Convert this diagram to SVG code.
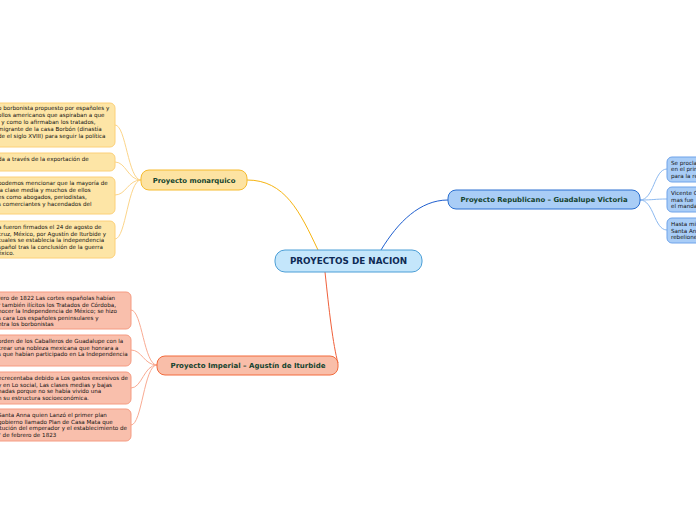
<svg xmlns="http://www.w3.org/2000/svg" width="696" height="520" viewBox="0 0 696 520">
<style>
.t{font-family:"DejaVu Sans","Liberation Sans",sans-serif;font-size:5.6px;fill:#111111}
.h{font-family:"DejaVu Sans","Liberation Sans",sans-serif;font-weight:bold;fill:#14432e;text-anchor:middle;dominant-baseline:central}
.mo{fill:#fde5a6;stroke:#fcd079;stroke-width:1}
.im{fill:#f9bfac;stroke:#f59b82;stroke-width:1}
.re{fill:#a9cdf7;stroke:#6ea3ea;stroke-width:1}
.c{fill:none;stroke-width:1}
</style>
<rect width="696" height="520" fill="#ffffff"/>
<g id="connectors">
<path class="c" d="M318,250 C300,212 285,180 247,180" stroke="#f6b412" stroke-width="1.6"/>
<path class="c" d="M381,250 C398,222 420,200 448,200" stroke="#1f5fcf" stroke-width="1.6"/>
<path class="c" d="M325,272 C329,310 333,345 338,363" stroke="#f0603a" stroke-width="1.6"/>
<g stroke="#fcd58a">
<path class="c" d="M141,180 C128,180 126,125 115,125"/>
<path class="c" d="M141,180 C128,180 126,162 115,162"/>
<path class="c" d="M141,180 C128,180 126,195 115,195"/>
<path class="c" d="M141,180 C128,180 126,239 115,239"/>
</g>
<g stroke="#f9ab93">
<path class="c" d="M157,365 C144,365 142,310 131,310"/>
<path class="c" d="M157,365 C144,365 142,350 131,350"/>
<path class="c" d="M157,365 C144,365 142,388 131,388"/>
<path class="c" d="M157,365 C144,365 142,425 131,425"/>
</g>
<g stroke="#8cb9f0">
<path class="c" d="M640,200 C654,200 654,169 667,169"/>
<path class="c" d="M640,200 C654,200 654,199 667,199"/>
<path class="c" d="M640,200 C654,200 654,230 667,230"/>
</g>
</g>
<g id="center">
<rect x="275" y="250" width="147" height="22" rx="10" fill="#c4e6fb" stroke="#4b9ed6" stroke-width="1"/>
<text class="h" x="348.5" y="261" font-size="8.8" style="fill:#0e2a55">PROYECTOS DE NACION</text>
</g>
<g id="monarquico">
<rect x="141" y="170" width="106" height="20" rx="8" fill="#fde3a2" stroke="#f6bb2f" stroke-width="1"/>
<text class="h" x="194" y="180.5" font-size="6.9">Proyecto monarquico</text>
</g>
<g id="republicano">
<rect x="448" y="190" width="192" height="19" rx="8" fill="#a9cdf6" stroke="#2a6fd0" stroke-width="1"/>
<text class="h" x="544" y="200" font-size="6.9">Proyecto Republicano – Guadalupe Victoria</text>
</g>
<g id="imperial">
<rect x="157" y="356" width="181" height="19" rx="8" fill="#f9bea9" stroke="#f26a3c" stroke-width="1"/>
<text class="h" x="248" y="366" font-size="7">Proyecto Imperial – Agustín de Iturbide</text>
</g>
<g id="mon1">
<rect class="mo" x="-10" y="103" width="125" height="44" rx="5"/>
<text class="t" x="-2" y="110">o borbonista propuesto por españoles y</text>
<text class="t" x="-2" y="117">ollos americanos que aspiraban a que</text>
<text class="t" x="-2" y="124">l y como lo afirmaban los tratados,</text>
<text class="t" x="-2" y="131">migrante de la casa Borbón (dinastía</text>
<text class="t" x="-2" y="138">de el siglo XVIII) para seguir la política</text>
</g>
<g id="mon2">
<rect class="mo" x="-10" y="153" width="125" height="18" rx="5"/>
<text class="t" x="-2" y="161">da a través de la exportación de</text>
</g>
<g id="mon3">
<rect class="mo" x="-10" y="177" width="125" height="37" rx="5"/>
<text class="t" x="-2" y="185">podemos mencionar que la mayoría de</text>
<text class="t" x="-2" y="192">la clase media y muchos de ellos</text>
<text class="t" x="-2" y="199">es como abogados, periodistas,</text>
<text class="t" x="-2" y="206">s comerciantes y hacendados del</text>
</g>
<g id="mon4">
<rect class="mo" x="-10" y="221" width="125" height="37" rx="5"/>
<text class="t" x="-2" y="229">a fueron firmados el 24 de agosto de</text>
<text class="t" x="-2" y="235.5">cruz, México, por Agustín de Iturbide y</text>
<text class="t" x="-2" y="242">cuales se establecía la independencia</text>
<text class="t" x="-2" y="248.5">spañol tras la conclusión de la guerra</text>
<text class="t" x="-2" y="255">éxico.</text>
</g>
<g id="imp1">
<rect class="im" x="-10" y="292" width="141" height="37" rx="5"/>
<text class="t" x="-2" y="300">rero de 1822 Las cortes españolas habían</text>
<text class="t" x="-2" y="306.5">r también ilícitos los Tratados de Córdoba,</text>
<text class="t" x="-2" y="313">nocer la Independencia de México; se hizo</text>
<text class="t" x="-2" y="319.5">s cara Los españoles peninsulares y</text>
<text class="t" x="-2" y="326">ntra los borbonistas</text>
</g>
<g id="imp2">
<rect class="im" x="-10" y="335" width="141" height="31" rx="5"/>
<text class="t" x="-2" y="343">orden de los Caballeros de Guadalupe con la</text>
<text class="t" x="-2" y="349.5"> crear una nobleza mexicana que honrara a</text>
<text class="t" x="-2" y="356">s que habían participado en La Independencia</text>
</g>
<g id="imp3">
<rect class="im" x="-10" y="372" width="141" height="32" rx="5"/>
<text class="t" x="-2" y="380">ecrecentaba debido a Los gastos excesivos de</text>
<text class="t" x="-2" y="386.5"> y en Lo social, Las clases medias y bajas</text>
<text class="t" x="-2" y="393">nadas porque no se había vivido una</text>
<text class="t" x="-2" y="399.5">n su estructura socioeconómica.</text>
</g>
<g id="imp4">
<rect class="im" x="-10" y="409" width="141" height="32" rx="5"/>
<text class="t" x="-2" y="417"> Santa Anna quien Lanzó el primer plan</text>
<text class="t" x="-2" y="423.5">gobierno llamado Plan de Casa Mata que</text>
<text class="t" x="-2" y="430">itución del emperador y el establecimiento de</text>
<text class="t" x="-2" y="436.5">° de febrero de 1823</text>
</g>
<g id="rep1">
<rect class="re" x="667" y="157" width="40" height="25" rx="5"/>
<text class="t" x="671" y="164.5">Se procla</text>
<text class="t" x="671" y="171">en el prin</text>
<text class="t" x="671" y="177.5">para la re</text>
</g>
<g id="rep2">
<rect class="re" x="667" y="187" width="40" height="25" rx="5"/>
<text class="t" x="671" y="195">Vicente G</text>
<text class="t" x="671" y="201.5">mas fue</text>
<text class="t" x="671" y="208">el manda</text>
</g>
<g id="rep3">
<rect class="re" x="667" y="218" width="40" height="25" rx="5"/>
<text class="t" x="671" y="226">Hasta mi</text>
<text class="t" x="671" y="232.5">Santa An</text>
<text class="t" x="671" y="239">rebelione</text>
</g>
</svg>
